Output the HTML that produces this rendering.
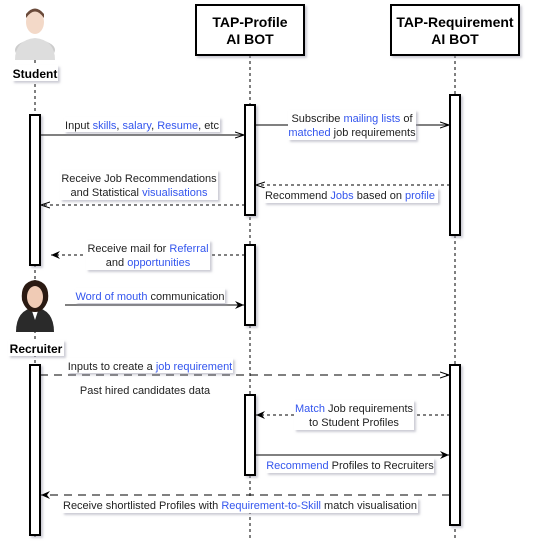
<!DOCTYPE html>
<html><head><meta charset="utf-8"><style>
html,body{margin:0;padding:0;background:#fff;}
svg{display:block;font-family:"Liberation Sans",sans-serif;}
.b{fill:#3355ee}
</style></head><body>
<svg width="533" height="548" viewBox="0 0 533 548" xmlns="http://www.w3.org/2000/svg">
<defs>
<marker id="op" markerWidth="10" markerHeight="8" refX="9" refY="4" orient="auto" markerUnits="userSpaceOnUse"><path d="M0,1 L9,4 L0,7" fill="none" stroke="#000" stroke-width="1"/></marker>
<marker id="fl" markerWidth="10" markerHeight="8" refX="9" refY="4" orient="auto" markerUnits="userSpaceOnUse"><path d="M0,0 L9,4 L0,8 L3,4 Z" fill="#000"/></marker>
<filter id="sh" x="-10%" y="-10%" width="130%" height="150%"><feDropShadow dx="2" dy="2" stdDeviation="1" flood-color="#99a" flood-opacity="0.5"/></filter>
</defs>
<!-- lifelines -->
<g stroke="#000" stroke-dasharray="3,3" stroke-width="1">
<line x1="35" y1="60" x2="35" y2="540"/>
<line x1="250" y1="55" x2="250" y2="540"/>
<line x1="455" y1="55" x2="455" y2="540"/>
</g>
<!-- headers -->
<g filter="url(#sh)">
<rect x="196" y="5" width="108" height="50" fill="#fff" stroke="#000" stroke-width="2"/>
<rect x="391" y="5" width="128" height="50" fill="#fff" stroke="#000" stroke-width="2"/>
</g>
<g font-weight="bold" font-size="14" text-anchor="middle">
<text x="250" y="27">TAP-Profile</text><text x="250" y="44">AI BOT</text>
<text x="455" y="27">TAP-Requirement</text><text x="455" y="44">AI BOT</text>
</g>
<!-- student icon -->
<g>
<ellipse cx="35" cy="50" rx="20" ry="10" fill="#ccc"/>
<path d="M15,60 Q15,40 35,38 Q55,40 55,60 Z" fill="#ddd"/>
<ellipse cx="35" cy="22" rx="9" ry="12" fill="#f3d9c8"/>
<path d="M26,18 Q35,5 44,18 L44,14 Q35,3 26,14Z" fill="#6a4a3a"/>
</g>
<rect x="12" y="65" width="46" height="16" fill="#fff" filter="url(#sh)"/>
<text x="35" y="78" font-size="12" font-weight="bold" text-anchor="middle">Student</text>
<!-- recruiter icon -->
<g>
<path d="M16,332 Q16,310 35,307 Q54,310 54,332 Z" fill="#2a2a2a"/>
<path d="M31,308 L35,320 L39,308Z" fill="#fff"/>
<path d="M22,300 Q20,282 35,280 Q50,282 48,300 Q44,312 35,312 Q26,312 22,300Z" fill="#2a1a12"/>
<ellipse cx="35" cy="297" rx="8" ry="11" fill="#f0cbb5"/>
</g>
<rect x="8" y="340" width="56" height="16" fill="#fff" filter="url(#sh)"/>
<text x="36" y="353" font-size="12" font-weight="bold" text-anchor="middle">Recruiter</text>
<!-- activations -->
<g fill="#fff" stroke="#000" stroke-width="2" filter="url(#sh)">
<rect x="30" y="115" width="10" height="150"/>
<rect x="30" y="365" width="10" height="170"/>
<rect x="245" y="105" width="10" height="110"/>
<rect x="245" y="245" width="10" height="80"/>
<rect x="245" y="395" width="10" height="80"/>
<rect x="450" y="95" width="10" height="140"/>
<rect x="450" y="365" width="10" height="160"/>
</g>
<!-- arrows -->
<g stroke="#000" stroke-width="1" fill="none">
<line x1="40" y1="135" x2="244" y2="135" marker-end="url(#op)"/>
<line x1="255" y1="125" x2="449" y2="125" marker-end="url(#op)"/>
<line x1="450" y1="185" x2="256" y2="185" stroke-dasharray="3,3" marker-end="url(#op)"/>
<line x1="245" y1="205" x2="41" y2="205" stroke-dasharray="3,3" marker-end="url(#op)"/>
<line x1="245" y1="255" x2="51" y2="255" stroke-dasharray="3,3" marker-end="url(#fl)"/>
<line x1="65" y1="305" x2="244" y2="305" marker-end="url(#fl)"/>
<line x1="40" y1="375" x2="449" y2="375" stroke-dasharray="8,6" marker-end="url(#op)"/>
<line x1="450" y1="415" x2="256" y2="415" stroke-dasharray="3,3" marker-end="url(#fl)"/>
<line x1="255" y1="455" x2="449" y2="455" marker-end="url(#fl)"/>
<line x1="450" y1="495" x2="41" y2="495" stroke-dasharray="8,6" marker-end="url(#fl)"/>
</g>
<!-- label backgrounds -->
<g fill="#fff" filter="url(#sh)">
<rect x="64" y="117" width="156" height="15"/>
<rect x="288" y="110" width="128" height="30"/>
<rect x="264" y="188" width="174" height="15"/>
<rect x="60" y="170" width="158" height="30"/>
<rect x="86" y="240" width="124" height="30"/>
<rect x="75" y="288" width="150" height="15"/>
<rect x="67" y="358" width="166" height="15"/>
<rect x="294" y="400" width="120" height="30"/>
<rect x="266" y="458" width="168" height="15"/>
<rect x="62" y="498" width="356" height="15"/>
</g>
<g font-size="11" fill="#222" text-anchor="middle">
<text x="142" y="129">Input <tspan class="b">skills</tspan>, <tspan class="b">salary</tspan>, <tspan class="b">Resume</tspan>, etc</text>
<text x="352" y="122">Subscribe <tspan class="b">mailing lists</tspan> of</text>
<text x="352" y="136"><tspan class="b">matched</tspan> job requirements</text>
<text x="350" y="199">Recommend <tspan class="b">Jobs</tspan> based on <tspan class="b">profile</tspan></text>
<text x="139" y="182">Receive Job Recommendations</text>
<text x="139" y="196">and Statistical <tspan class="b">visualisations</tspan></text>
<text x="148" y="252">Receive mail for <tspan class="b">Referral</tspan></text>
<text x="148" y="266">and <tspan class="b">opportunities</tspan></text>
<text x="150" y="300"><tspan class="b">Word of mouth</tspan> communication</text>
<text x="150" y="370">Inputs to create a <tspan class="b">job requirement</tspan></text>
<text x="145" y="394">Past hired candidates data</text>
<text x="354" y="412"><tspan class="b">Match</tspan> Job requirements</text>
<text x="354" y="426">to Student Profiles</text>
<text x="350" y="469"><tspan class="b">Recommend</tspan> Profiles to Recruiters</text>
<text x="240" y="509">Receive shortlisted Profiles with <tspan class="b">Requirement-to-Skill</tspan> match visualisation</text>
</g>
</svg>
</body></html>
